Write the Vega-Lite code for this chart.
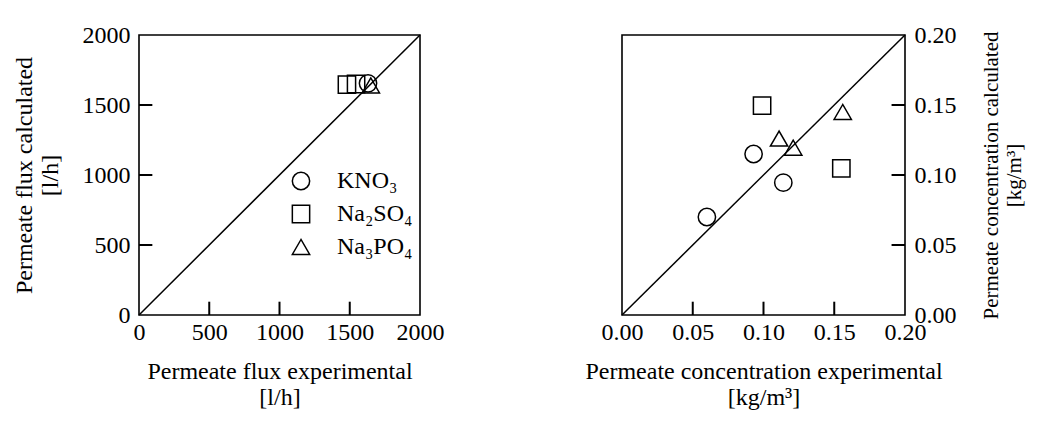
{
  "$schema": "https://vega.github.io/schema/vega-lite/v6.json",
  "background": "white",
  "padding": {"left": 11, "top": 22, "right": 5, "bottom": 5},
  "spacing": 139,
  "config": {
    "view": {"stroke": "black", "strokeWidth": 1.6},
    "font": "Liberation Serif",
    "axis": {
      "domain": false, "grid": false, "ticks": false, "labelPadding": 9,
      "labelFont": "Liberation Serif", "labelFontSize": 24, "labelColor": "black",
      "labelFlush": false, "labelOverlap": false, "labelBound": false,
      "titleFont": "Liberation Serif", "titleFontSize": 24, "titleFontWeight": "normal", "titleColor": "black"
    },
    "axisX": {"labelPadding": 5},
    "legend": {"labelFont": "Liberation Serif", "labelFontSize": 24, "labelColor": "black"}
  },
  "datasets": {
    "flux": [
      {"salt": "KNO₃", "exp": 1630, "calc": 1655},
      {"salt": "Na₂SO₄", "exp": 1480, "calc": 1645},
      {"salt": "Na₂SO₄", "exp": 1545, "calc": 1650},
      {"salt": "Na₃PO₄", "exp": 1650, "calc": 1640}
    ],
    "conc": [
      {"salt": "KNO₃", "exp": 0.060, "calc": 0.070},
      {"salt": "KNO₃", "exp": 0.093, "calc": 0.115},
      {"salt": "KNO₃", "exp": 0.114, "calc": 0.0945},
      {"salt": "Na₂SO₄", "exp": 0.099, "calc": 0.1495},
      {"salt": "Na₂SO₄", "exp": 0.155, "calc": 0.1047},
      {"salt": "Na₃PO₄", "exp": 0.111, "calc": 0.126},
      {"salt": "Na₃PO₄", "exp": 0.121, "calc": 0.1195},
      {"salt": "Na₃PO₄", "exp": 0.156, "calc": 0.145}
    ],
    "diag1": [{"v": 0}, {"v": 2000}],
    "diag2": [{"v": 0}, {"v": 0.2}],
    "ticks1": [{"t": 500}, {"t": 1000}, {"t": 1500}],
    "ticks2": [{"t": 0.05}, {"t": 0.1}, {"t": 0.15}]
  },
  "resolve": {"scale": {"shape": "independent"}, "legend": {"shape": "independent"}},
  "hconcat": [
    {
      "width": 281, "height": 280,
      "layer": [
        {
          "data": {"name": "diag1"},
          "mark": {"type": "line", "color": "black", "strokeWidth": 1.5},
          "encoding": {
            "x": {"field": "v", "type": "quantitative", "scale": {"domain": [0, 2000], "nice": false},
              "axis": {"values": [0, 500, 1000, 1500, 2000], "format": "d", "title": ["Permeate flux  experimental", "[l/h]"], "titlePadding": 15}},
            "y": {"field": "v", "type": "quantitative", "scale": {"domain": [0, 2000], "nice": false},
              "axis": {"values": [0, 500, 1000, 1500, 2000], "format": "d", "title": ["Permeate flux calculated", "[l/h]"], "titlePadding": 20}}
          }
        },
        {
          "data": {"name": "ticks1"},
          "mark": {"type": "rule", "color": "black", "strokeWidth": 2},
          "encoding": {
            "x": {"field": "t", "type": "quantitative"},
            "y": {"datum": 0, "type": "quantitative"},
            "y2": {"datum": 95}
          }
        },
        {
          "data": {"name": "ticks1"},
          "mark": {"type": "rule", "color": "black", "strokeWidth": 2},
          "encoding": {
            "y": {"field": "t", "type": "quantitative"},
            "x": {"datum": 0, "type": "quantitative"},
            "x2": {"datum": 95}
          }
        },
        {
          "data": {"name": "flux"},
          "mark": {"type": "point", "filled": false, "color": "black", "strokeWidth": 1.5, "size": 300, "opacity": 1},
          "encoding": {
            "x": {"field": "exp", "type": "quantitative"},
            "y": {"field": "calc", "type": "quantitative"},
            "shape": {"field": "salt", "type": "nominal",
              "scale": {"domain": ["KNO₃", "Na₂SO₄", "Na₃PO₄"], "range": ["circle", "square", "triangle-up"]},
              "legend": {"orient": "none", "legendX": 150, "legendY": 134, "title": null, "symbolSize": 300,
                "symbolStrokeColor": "black", "symbolFillColor": "transparent", "symbolStrokeWidth": 1.5,
                "labelOffset": 24, "rowPadding": 9, "padding": 0}}
          }
        }
      ]
    },
    {
      "width": 283, "height": 280,
      "layer": [
        {
          "data": {"name": "diag2"},
          "mark": {"type": "line", "color": "black", "strokeWidth": 1.5},
          "encoding": {
            "x": {"field": "v", "type": "quantitative", "scale": {"domain": [0, 0.2], "nice": false},
              "axis": {"values": [0, 0.05, 0.1, 0.15, 0.2], "format": ".2f", "title": ["Permeate concentration experimental", "[kg/m³]"], "titlePadding": 15}},
            "y": {"field": "v", "type": "quantitative", "scale": {"domain": [0, 0.2], "nice": false},
              "axis": {"orient": "right", "values": [0, 0.05, 0.1, 0.15, 0.2], "format": ".2f", "title": ["Permeate concentration calculated", "[kg/m³]"], "titleAngle": 270, "titlePadding": 22, "titleFontSize": 21}}
          }
        },
        {
          "data": {"name": "ticks2"},
          "mark": {"type": "rule", "color": "black", "strokeWidth": 2},
          "encoding": {
            "x": {"field": "t", "type": "quantitative"},
            "y": {"datum": 0, "type": "quantitative"},
            "y2": {"datum": 0.0095}
          }
        },
        {
          "data": {"name": "ticks2"},
          "mark": {"type": "rule", "color": "black", "strokeWidth": 2},
          "encoding": {
            "y": {"field": "t", "type": "quantitative"},
            "x": {"datum": 0.2, "type": "quantitative"},
            "x2": {"datum": 0.1905}
          }
        },
        {
          "data": {"name": "conc"},
          "mark": {"type": "point", "filled": false, "color": "black", "strokeWidth": 1.5, "size": 300, "opacity": 1},
          "encoding": {
            "x": {"field": "exp", "type": "quantitative"},
            "y": {"field": "calc", "type": "quantitative"},
            "shape": {"field": "salt", "type": "nominal",
              "scale": {"domain": ["KNO₃", "Na₂SO₄", "Na₃PO₄"], "range": ["circle", "square", "triangle-up"]},
              "legend": null}
          }
        }
      ]
    }
  ]
}
